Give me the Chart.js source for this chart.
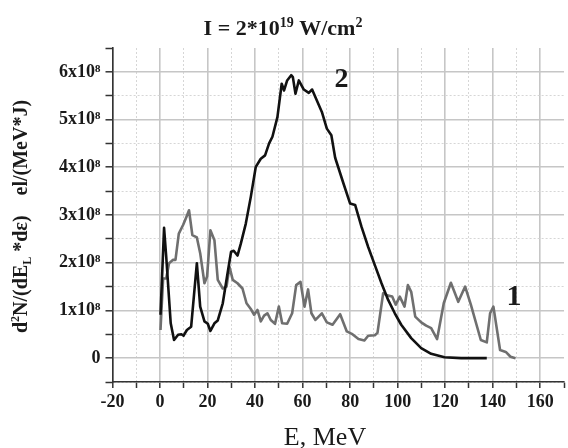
<!DOCTYPE html>
<html><head><meta charset="utf-8">
<script src="https://cdn.jsdelivr.net/npm/chart.js@4/dist/chart.umd.min.js"></script>
<style>html,body{margin:0;padding:0;background:#fff;}#wrap{width:568px;height:448px;position:relative;}</style>
</head><body><div id="wrap"><canvas id="c" width="568" height="448"></canvas></div>
<script>
// Energy (MeV) and spectra (units of 10^8 el/(MeV*J))
const energy2 = [0.2,1.7,2.6,4.5,5.9,7.6,9.0,9.9,11.3,13.1,15.5,16.9,18.7,20.1,21.2,22.9,24.3,26.4,28.2,29.9,31.0,32.6,34.0,36.1,38.2,40.3,42.4,44.2,45.9,47.3,49.4,51.2,52.2,53.5,55.2,55.9,57.0,58.4,60.5,62.6,64.0,66.0,68.1,70.2,72.1,73.7,77.2,80.0,82.1,84.8,87.6,90.4,93.2,96.0,98.8,101.5,105.7,109.9,114.1,119.7,126.7,137.5];
const series2 = [0.91,2.73,2.13,0.73,0.38,0.49,0.50,0.47,0.59,0.66,1.99,1.08,0.77,0.72,0.57,0.73,0.79,1.15,1.71,2.23,2.25,2.15,2.40,2.82,3.38,4.01,4.18,4.25,4.50,4.64,5.05,5.75,5.61,5.82,5.93,5.89,5.54,5.82,5.63,5.56,5.63,5.40,5.16,4.81,4.67,4.20,3.66,3.24,3.21,2.75,2.33,1.95,1.57,1.22,0.94,0.70,0.42,0.21,0.09,0.02,0.0,0.0];
const energy1 = [0.2,1.3,2.6,3.8,5.5,6.5,7.9,9.7,11.1,12.2,13.6,15.5,16.9,18.7,19.8,21.2,22.9,24.3,26.4,28.0,29.2,30.6,32.6,34.7,36.4,38.2,39.6,41.0,42.4,43.8,45.2,46.6,48.4,50.0,51.4,53.5,55.6,57.3,59.1,60.8,62.3,63.7,65.4,68.1,70.2,72.6,75.8,78.6,80.7,83.5,86.0,87.6,90.4,91.5,93.9,96.0,97.7,99.2,100.9,102.9,104.3,105.7,107.4,109.9,112.0,114.1,116.6,119.4,122.4,125.5,128.4,130.8,135.0,137.5,138.9,140.3,143.1,145.5,147.5,149.6];
const series1 = [0.59,1.67,1.67,1.99,2.06,2.06,2.61,2.79,2.96,3.10,2.58,2.53,2.20,1.57,1.71,2.68,2.47,1.64,1.46,1.50,1.92,1.64,1.57,1.46,1.15,1.03,0.91,1.01,0.77,0.89,0.94,0.80,0.72,1.08,0.73,0.72,0.94,1.53,1.60,1.08,1.44,0.94,0.80,0.94,0.75,0.70,0.92,0.56,0.51,0.40,0.37,0.47,0.48,0.53,1.36,1.31,1.29,1.12,1.29,1.08,1.53,1.39,0.87,0.75,0.68,0.63,0.40,1.15,1.58,1.18,1.50,1.12,0.38,0.33,0.94,1.08,0.17,0.13,0.03,0.0];
const yTickValues = [0,1,2,3,4,5,6];
const yTickLabels = ['0','1x10⁸','2x10⁸','3x10⁸','4x10⁸','5x10⁸','6x10⁸'];
const xTickValues = [-20,0,20,40,60,80,100,120,140,160];
const xTickLabels = ['-20','0','20','40','60','80','100','120','140','160'];
const seriesNames = ['1','2'];

const SERIF = "'Liberation Serif','Times New Roman',serif";
const pts = (xs, ys) => xs.map((x,i)=>({x:x,y:ys[i]}));

function drawRich(ctx, parts, size, weight) {
  let x = 0;
  for (const [t, m] of parts) {
    const s = m === 'n' ? size : Math.round(size*0.62);
    ctx.font = weight + ' ' + s + 'px ' + SERIF;
    const dy = m === 'sup' ? -size*0.38 : (m === 'sub' ? size*0.2 : 0);
    ctx.fillText(t, x, dy);
    x += ctx.measureText(t).width;
  }
  return x;
}
function measureRich(ctx, parts, size, weight) {
  let x = 0;
  for (const [t, m] of parts) {
    const s = m === 'n' ? size : Math.round(size*0.62);
    ctx.font = weight + ' ' + s + 'px ' + SERIF;
    x += ctx.measureText(t).width;
  }
  return x;
}

const textPlugin = {
  id: 'texts',
  afterDraw(chart) {
    const ctx = chart.ctx;
    const xs = chart.scales.x, ys = chart.scales.y;
    ctx.save();
    ctx.fillStyle = '#1a1a1a';
    ctx.textBaseline = 'alphabetic';
    ctx.textAlign = 'left';
    // Title
    const title = [['I = 2*10','n'],['19','sup'],[' W/cm','n'],['2','sup']];
    const tw = measureRich(ctx, title, 22, 'bold');
    ctx.save(); ctx.translate(283 - tw/2, 35); drawRich(ctx, title, 22, 'bold'); ctx.restore();
    // X title
    ctx.font = 'normal 26px ' + SERIF;
    ctx.textAlign = 'center';
    ctx.fillText('E, MeV', 325, 445);
    ctx.textAlign = 'left';
    // Y title (rotated)
    const partA = [['d','n'],['2','sup'],['N/(dE','n'],['L','sub'],[' *dε)','n']];
    const partB = [['el/(MeV*J)','n']];
    ctx.save();
    ctx.translate(27, 333);
    ctx.rotate(-Math.PI/2);
    const wa = measureRich(ctx, partA, 20, 'bold');
    drawRich(ctx, partA, 20, 'bold');
    ctx.translate(wa + 20, 0);
    drawRich(ctx, partB, 20, 'bold');
    ctx.restore();
    // Curve labels
    ctx.font = 'bold 28px ' + SERIF;
    ctx.textAlign = 'center';
    ctx.fillText(seriesNames[1], xs.getPixelForValue(76.4), ys.getPixelForValue(5.68));
    ctx.font = 'bold 30px ' + SERIF;
    ctx.fillText(seriesNames[0], xs.getPixelForValue(149.0), ys.getPixelForValue(1.12));
    ctx.restore();
  }
};

new Chart(document.getElementById('c'), {
  type: 'scatter',
  data: {
    datasets: [
      { label: seriesNames[1], data: pts(energy2, series2), showLine: true, borderColor: '#111111', borderWidth: 2.6, pointRadius: 0, tension: 0, borderJoinStyle: 'round', order: 0 },
      { label: seriesNames[0], data: pts(energy1, series1), showLine: true, borderColor: '#6f6f6f', borderWidth: 2.6, pointRadius: 0, tension: 0, borderJoinStyle: 'round', order: 1 }
    ]
  },
  options: {
    responsive: false,
    animation: false,
    layout: { padding: { left: 0, right: 1, top: 48, bottom: 36 } },
    plugins: { legend: { display: false }, tooltip: { enabled: false }, title: { display: false } },
    scales: {
      x: {
        type: 'linear', min: -20, max: 170,
        afterFit: s => { s.height = 30; },
        ticks: {
          stepSize: 10, autoSkip: false, maxRotation: 0, padding: 4, color: '#1a1a1a',
          font: { family: SERIF, weight: 'bold', size: 18 },
          callback: v => { const i = xTickValues.indexOf(v); return i >= 0 ? xTickLabels[i] : ''; }
        },
        grid: {
          color: c => (c.tick && c.tick.value === 170) ? 'rgba(0,0,0,0)' : (c.tick && c.tick.value % 20 === 0 ? '#c6c6c6' : '#d6d6d6'),
          lineWidth: c => (c.tick && c.tick.value % 20 === 0) ? 1.6 : 1,
          tickColor: '#333', tickLength: 6, tickWidth: 1.5
        },
        border: { color: '#333', width: 1.6, dash: c => (c.tick && c.tick.value % 20 !== 0) ? [2,2] : [] }
      },
      y: {
        type: 'linear', min: -0.5, max: 6.5,
        afterFit: s => { s.width = 112.5; },
        ticks: {
          stepSize: 0.5, autoSkip: false, padding: 5, color: '#1a1a1a',
          font: { family: SERIF, weight: 'bold', size: 18 },
          callback: v => { const i = yTickValues.indexOf(v); return i >= 0 ? yTickLabels[i] : ''; }
        },
        grid: {
          color: c => (c.tick && c.tick.value === 6.5) ? 'rgba(0,0,0,0)' : (c.tick && Number.isInteger(c.tick.value) ? '#c6c6c6' : '#d6d6d6'),
          lineWidth: c => (c.tick && Number.isInteger(c.tick.value)) ? 1.6 : 1,
          tickColor: '#333', tickLength: 7, tickWidth: 1.5
        },
        border: { color: '#333', width: 1.6, dash: c => (c.tick && !Number.isInteger(c.tick.value)) ? [2,2] : [] }
      }
    }
  },
  plugins: [textPlugin]
});
</script></body></html>
